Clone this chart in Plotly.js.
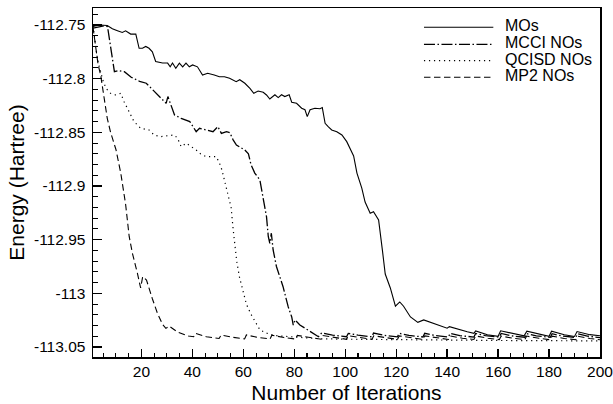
<!DOCTYPE html>
<html>
<head>
<meta charset="utf-8">
<script src="https://cdn.plot.ly/plotly-3.0.1.min.js"></script>
<style>html,body{margin:0;padding:0;background:#fff}#chart{width:613px;height:404px}</style>
</head>
<body>
<div id="chart"></div>
<script>
// ---- data ----
var seriesNames = ["MOs", "MCCI NOs", "QCISD NOs", "MP2 NOs"];

var mosX = [1,3.5,6.6,8.6,10.6,12.5,13.8,15.8,17.8,19.1,20.4,21.7,23,24.3,25.6,28.3,30.3,31.3,32.2,33.5,34.9,36.2,37.5,38.8,40.1,42,44,46,48.6,50.6,52.6,54.6,57.2,58.6,60.6,62.6,64.1,65.8,67.8,69.1,70.4,72.4,73.7,75,76.3,78,79,80.9,82.9,84.2,85.1,86.2,88.1,90.1,91,92.1,93.4,94.7,96.7,98.7,100.6,102,103.3,104.6,106.5,107.8,109.8,111.1,113.1,114.6,115.7,117.7,119.7,121.4,122.9,125.6,128.5,130.8,133.5,136.1,140,140.9,144,147.9,150.5,151.2,155.8,160,161,165,170.2,171.3,176,180,181,186,190,191,196,200];
var mosY = [-112.7515,-112.7500,-112.7505,-112.7535,-112.7553,-112.7570,-112.7555,-112.7585,-112.7585,-112.7717,-112.7717,-112.7700,-112.7717,-112.7750,-112.7840,-112.7855,-112.7855,-112.7890,-112.7855,-112.7903,-112.7855,-112.7890,-112.7855,-112.7890,-112.7872,-112.7890,-112.7966,-112.7950,-112.7966,-112.7982,-112.7982,-112.7997,-112.8028,-112.8010,-112.8043,-112.8090,-112.8136,-112.8115,-112.8127,-112.8152,-112.8190,-112.8150,-112.8177,-112.8150,-112.8167,-112.8150,-112.8220,-112.8230,-112.8276,-112.8290,-112.8354,-112.8290,-112.8276,-112.8280,-112.8270,-112.8416,-112.8450,-112.8478,-112.8494,-112.8525,-112.8587,-112.8650,-112.8720,-112.8880,-112.9020,-112.9150,-112.9254,-112.9240,-112.9317,-112.9600,-112.9820,-112.9950,-113.0120,-113.0080,-113.0120,-113.0220,-113.0270,-113.0248,-113.0270,-113.0290,-113.0325,-113.0310,-113.0333,-113.0358,-113.0373,-113.0350,-113.0385,-113.0400,-113.0349,-113.0370,-113.0396,-113.0353,-113.0380,-113.0400,-113.0353,-113.0385,-113.0402,-113.0356,-113.0385,-113.0395];

var mcciX = [1,4.8,6.7,8.1,9.4,11,13.3,16,18,19.3,21.9,24.5,25.8,28.4,29.7,30.4,31.7,33,35.6,39,41.5,42.8,45.5,48.1,50,51.4,53.4,54.7,56,57.3,60.6,62,63,64.5,66.5,67.8,69.1,69.8,70.4,71,71.7,73,75.6,77.6,79,79.6,80.3,82.2,86.2,89.5,90.8,95,100.5,101.2,105,110.5,111.1,115,120.5,121.2,125,130.5,131.2,135,140.5,141.2,145,150.5,151.2,155,160.5,161.2,165,170.5,171.2,175,180.5,181.2,185,190.5,191.2,195,200];
var mcciY = [-112.7530,-112.7510,-112.7515,-112.7730,-112.7935,-112.7925,-112.7935,-112.7987,-112.8010,-112.8025,-112.8043,-112.8106,-112.8137,-112.8200,-112.8230,-112.8167,-112.8260,-112.8338,-112.8370,-112.8400,-112.8494,-112.8463,-112.8478,-112.8494,-112.8447,-112.8510,-112.8494,-112.8503,-112.8570,-112.8618,-112.8665,-112.8700,-112.8800,-112.8880,-112.8944,-112.9100,-112.9286,-112.9470,-112.9534,-112.9440,-112.9596,-112.9750,-112.9938,-113.0124,-113.0220,-113.0295,-113.0248,-113.0295,-113.0358,-113.0404,-113.0367,-113.0390,-113.0404,-113.0373,-113.0390,-113.0405,-113.0370,-113.0390,-113.0405,-113.0372,-113.0392,-113.0406,-113.0372,-113.0392,-113.0407,-113.0373,-113.0393,-113.0408,-113.0374,-113.0394,-113.0408,-113.0374,-113.0395,-113.0409,-113.0375,-113.0396,-113.0410,-113.0376,-113.0397,-113.0411,-113.0377,-113.0398,-113.0412];

var qcisdX = [1,2.2,2.7,3.5,4.8,6.1,7.9,9.9,11.9,13.2,15.2,17.1,19.7,23,25,27.6,30.3,32.9,34.2,35.6,37.6,41.5,43.4,45.5,49.4,50.7,51.6,52.6,53.4,54.4,55.2,56,56.8,57.4,58.5,59.9,61.2,62.9,64.8,66.5,69,71.7,75,78.3,84.9,90,100,110,120,130,140,150,160,170,180,190,200];
var qcisdY = [-112.7510,-112.7730,-112.7810,-112.7890,-112.8010,-112.8090,-112.8137,-112.8152,-112.8137,-112.8215,-112.8308,-112.8400,-112.8462,-112.8478,-112.8525,-112.8540,-112.8532,-112.8525,-112.8556,-112.8634,-112.8602,-112.8665,-112.8705,-112.8727,-112.8727,-112.8790,-112.8850,-112.8944,-112.9040,-112.9130,-112.9200,-112.9400,-112.9560,-112.9700,-112.9850,-112.9980,-113.0100,-113.0190,-113.0270,-113.0340,-113.0370,-113.0390,-113.0398,-113.0404,-113.0420,-113.0423,-113.0427,-113.0430,-113.0432,-113.0434,-113.0436,-113.0438,-113.0439,-113.0440,-113.0441,-113.0442,-113.0443];

var mp2X = [1,2,3,4,5.3,6.6,7.9,9.3,10,11.9,13.8,15.2,16.5,18.4,19.7,20.5,22,24.3,26.3,28.3,29.6,30.9,34.2,38.5,40.5,41.2,45.5,50.5,51.3,56,60.5,61.2,66,70.5,71.2,76,80.5,81.2,86,90.5,91.2,96,100.5,101.2,106,110.5,111.2,116,120.5,121.2,126,130.5,131.2,136,140.5,141.2,146,150.5,151.2,156,160.5,161.2,166,170.5,171.2,176,180.5,181.2,186,190.5,191.2,196,200];
var mp2Y = [-112.7520,-112.7700,-112.7870,-112.7966,-112.8150,-112.8370,-112.8500,-112.8620,-112.8660,-112.8880,-112.9170,-112.9470,-112.9630,-112.9810,-112.9950,-112.9845,-112.9876,-113.0050,-113.0186,-113.0290,-113.0326,-113.0305,-113.0360,-113.0398,-113.0404,-113.0373,-113.0404,-113.0420,-113.0389,-113.0410,-113.0425,-113.0388,-113.0412,-113.0425,-113.0390,-113.0412,-113.0426,-113.0392,-113.0413,-113.0427,-113.0393,-113.0414,-113.0428,-113.0394,-113.0415,-113.0428,-113.0395,-113.0416,-113.0429,-113.0396,-113.0416,-113.0429,-113.0396,-113.0417,-113.0430,-113.0397,-113.0418,-113.0430,-113.0397,-113.0418,-113.0431,-113.0398,-113.0419,-113.0431,-113.0398,-113.0419,-113.0432,-113.0399,-113.0420,-113.0432,-113.0399,-113.0420,-113.0433];

var xTickVals = [20,40,60,80,100,120,140,160,180,200];
var yTickVals = [-113.05,-113,-112.95,-112.9,-112.85,-112.8,-112.75];
var yTickText = ["-113.05","-113","-112.95","-112.9","-112.85","-112.8","-112.75"];

// ---- styles ----
var FONT = "Liberation Sans, Arial, Helvetica, sans-serif";
var dashes = ["solid", "11px,2.5px,1.5px,2.5px", "1.2px,3.8px", "6.5px,3.5px"];
var widths = [1.1, 1.3, 1.2, 1.1];
var xs = [mosX, mcciX, qcisdX, mp2X];
var ys = [mosY, mcciY, qcisdY, mp2Y];

var traces = seriesNames.map(function (n, i) {
  return {
    x: xs[i], y: ys[i], name: n, type: "scatter", mode: "lines",
    line: {color: "#000", width: widths[i], dash: dashes[i]},
    showlegend: false, hoverinfo: "skip"
  };
});

// legend drawn with long line samples, as in the reference
var legRowY = [0.9447, 0.896, 0.849, 0.8014];
var shapes = [], annotations = [];
seriesNames.forEach(function (n, i) {
  shapes.push({type: "line", xref: "paper", yref: "paper",
    x0: 0.6528, x1: 0.7896, y0: legRowY[i], y1: legRowY[i],
    line: {color: "#000", width: widths[i], dash: dashes[i]}});
  annotations.push({xref: "paper", yref: "paper", x: 0.8087, y: legRowY[i] + 0.004,
    xanchor: "left", yanchor: "middle", showarrow: false, text: n,
    font: {family: FONT, size: 16, color: "#000"}});
});

var axCommon = {
  showgrid: false, zeroline: false, showline: true, linecolor: "#000", linewidth: 1.5,
  mirror: true, ticks: "inside", tickcolor: "#000", tickwidth: 1.3,
  tickfont: {family: FONT, size: 15.5, color: "#000"}
};

var layout = {
  width: 613, height: 404,
  margin: {l: 93, r: 13, t: 8, b: 47, pad: 0},
  paper_bgcolor: "#fff", plot_bgcolor: "#fff",
  font: {family: FONT, color: "#000"},
  showlegend: false,
  xaxis: Object.assign({}, axCommon, {
    range: [1, 200], tickmode: "array", tickvals: xTickVals, ticklen: 8, ticklabeloverflow: "allow",
    minor: {dtick: 5, tick0: 0, ticks: "inside", ticklen: 4, tickcolor: "#000", tickwidth: 1.1},
    title: {text: "Number of Iterations", font: {family: FONT, size: 21, color: "#000"}, standoff: 10}
  }),
  yaxis: Object.assign({}, axCommon, {
    range: [-113.0593, -112.7342], tickmode: "array", tickvals: yTickVals, ticktext: yTickText, ticklen: 9, ticklabelstandoff: 3,
    minor: {dtick: 0.01, tick0: -113.05, ticks: "inside", ticklen: 5, tickcolor: "#000", tickwidth: 1.1},
    title: {text: "Energy (Hartree)", font: {family: FONT, size: 21, color: "#000"}, standoff: 3}
  }),
  shapes: shapes,
  annotations: annotations
};

Plotly.newPlot("chart", traces, layout, {displayModeBar: false, staticPlot: true});
</script>
</body>
</html>
